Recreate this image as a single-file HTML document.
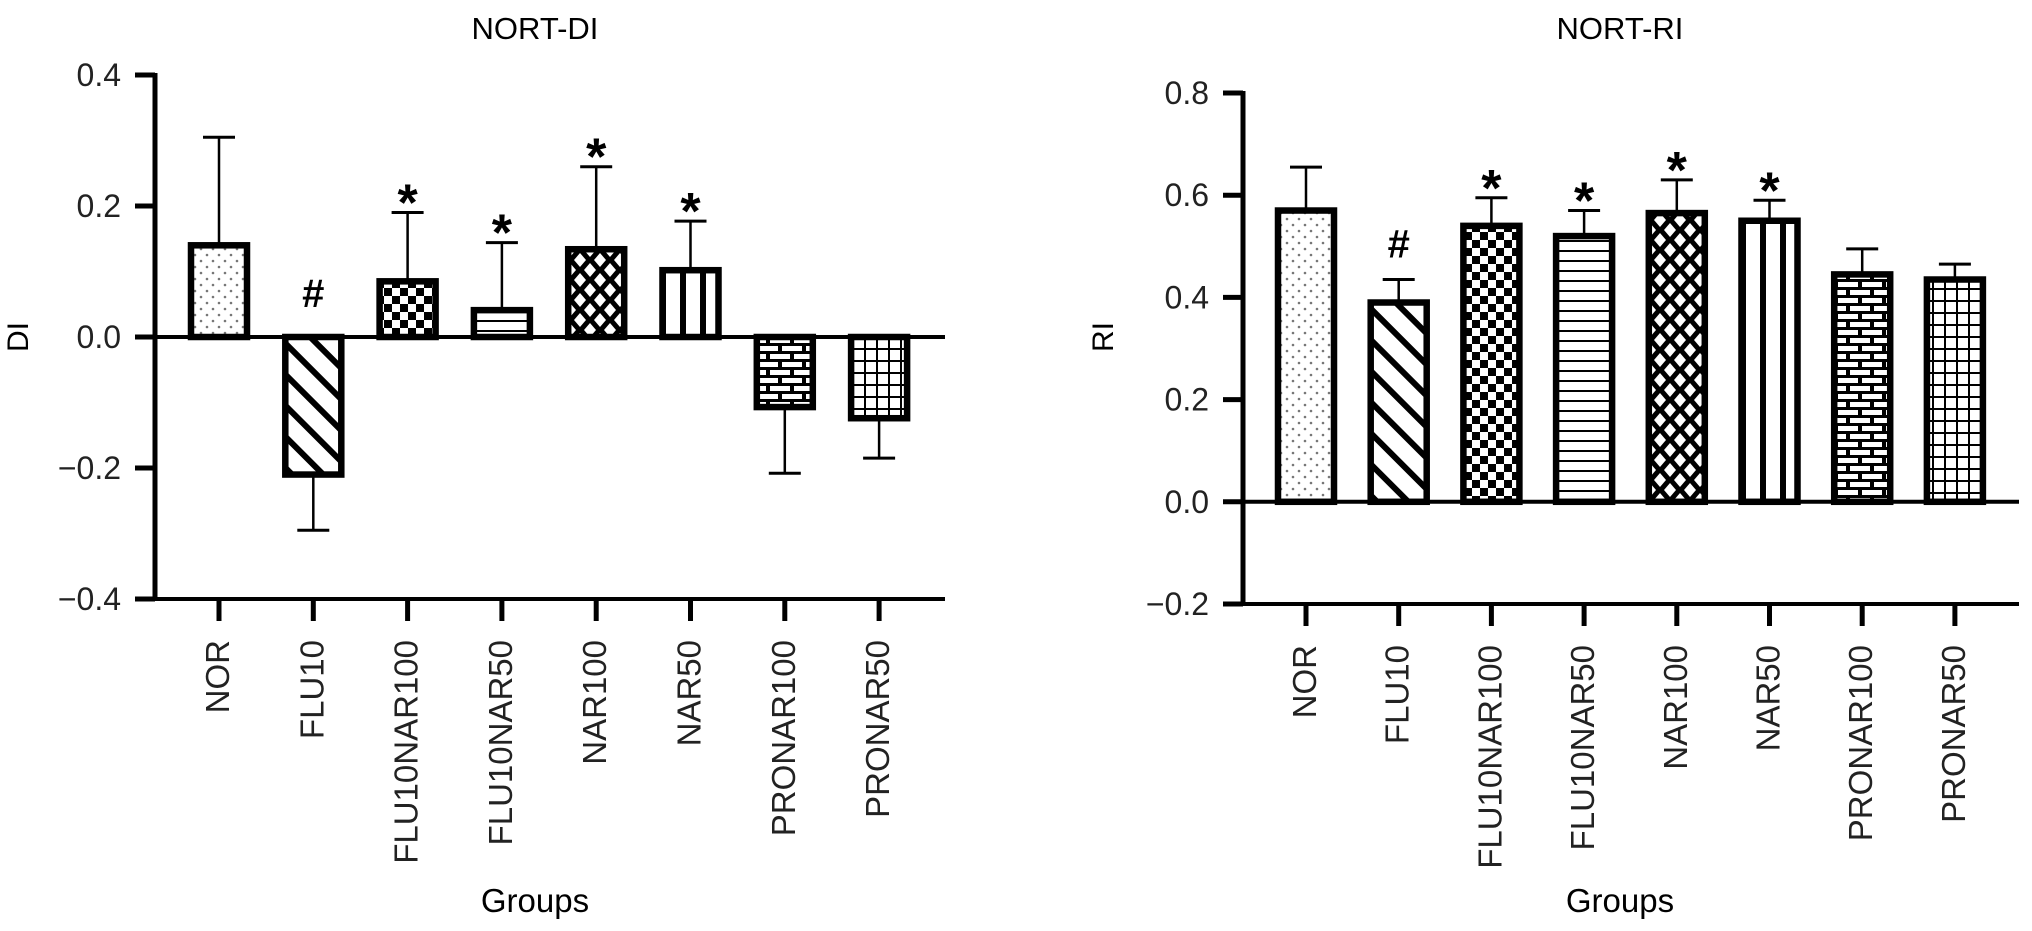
<!DOCTYPE html>
<html><head><meta charset="utf-8"><style>
html,body{margin:0;padding:0;background:#fff;width:2032px;height:931px;overflow:hidden}
svg{display:block;font-family:"Liberation Sans",Arial,sans-serif}
</style></head><body>
<svg id="chart" width="2032" height="931" viewBox="0 0 2032 931" xmlns="http://www.w3.org/2000/svg">
<defs>
<pattern id="p0" patternUnits="userSpaceOnUse" width="12" height="12"><rect width="12" height="12" fill="#fff"/><circle cx="3" cy="3" r="1.3" fill="#777"/><circle cx="9" cy="9" r="1.3" fill="#777"/></pattern>
<pattern id="p1" patternUnits="userSpaceOnUse" width="22" height="22" patternTransform="rotate(-45)"><rect width="22" height="22" fill="#fff"/><rect x="0" y="0" width="6" height="22" fill="#000"/></pattern>
<pattern id="p2" patternUnits="userSpaceOnUse" width="16" height="16"><rect width="16" height="16" fill="#fff"/><rect width="8" height="8" fill="#000"/><rect x="8" y="8" width="8" height="8" fill="#000"/></pattern>
<pattern id="p3" patternUnits="userSpaceOnUse" width="10" height="10"><rect width="10" height="10" fill="#fff"/><rect y="0" width="10" height="2" fill="#000"/></pattern>
<pattern id="p4" patternUnits="userSpaceOnUse" width="20" height="20"><rect width="20" height="20" fill="#000"/><polygon points="10,3 16,10 10,17 4,10" fill="#fff"/><polygon points="0,-7 6,0 0,7 -6,0" fill="#fff"/><polygon points="20,-7 26,0 20,7 14,0" fill="#fff"/><polygon points="0,13 6,20 0,27 -6,20" fill="#fff"/><polygon points="20,13 26,20 20,27 14,20" fill="#fff"/></pattern>
<pattern id="p5" patternUnits="userSpaceOnUse" width="20" height="20"><rect width="20" height="20" fill="#fff"/><rect x="0" width="6" height="20" fill="#000"/></pattern>
<pattern id="p6" patternUnits="userSpaceOnUse" width="24" height="16"><rect width="24" height="16" fill="#000"/><rect x="2" y="2" width="20" height="5" fill="#fff"/><rect x="-10" y="10" width="20" height="5" fill="#fff"/><rect x="14" y="10" width="20" height="5" fill="#fff"/></pattern>
<pattern id="p7" patternUnits="userSpaceOnUse" width="12" height="12"><rect width="12" height="12" fill="#fff"/><rect width="12" height="2" fill="#000"/><rect width="2" height="12" fill="#000"/></pattern>
</defs>
<g id="left"></g>
<g id="right"></g>
</svg>
<script>
const categories = ["NOR","FLU10","FLU10NAR100","FLU10NAR50","NAR100","NAR50","PRONAR100","PRONAR50"];
const diValues = [0.14,-0.21,0.085,0.041,0.134,0.102,-0.107,-0.124];
const diErrors = [0.305,-0.295,0.19,0.144,0.26,0.177,-0.208,-0.185];
const diMarks = ["","#","*","*","*","*","",""];
const diTicks = [0.4,0.2,0.0,-0.2,-0.4];
const riValues = [0.57,0.39,0.54,0.52,0.565,0.55,0.445,0.435];
const riErrors = [0.655,0.435,0.595,0.57,0.63,0.59,0.495,0.465];
const riMarks = ["","#","*","*","*","*","",""];
const riTicks = [0.8,0.6,0.4,0.2,0.0,-0.2];
const NS="http://www.w3.org/2000/svg";
function mk(parent,tag,attrs,text){const e=document.createElementNS(NS,tag);for(const k in attrs)e.setAttribute(k,attrs[k]);if(text!==undefined)e.textContent=text;parent.appendChild(e);return e;}
function fmt(v){return v<0?"\u2212"+Math.abs(v).toFixed(1):v.toFixed(1);}
function draw(g,cfg){
  const y=v=>cfg.y0+(cfg.vmax-v)/(cfg.vmax-cfg.vmin)*(cfg.y1-cfg.y0);
  const x=i=>cfg.x0+i*cfg.step;
  let t=mk(g,"text",{x:cfg.titleX,y:39,"text-anchor":"middle","font-size":31},cfg.title);
  
  
  t=mk(g,"text",{x:0,y:0,"text-anchor":"middle","font-size":30,transform:`translate(${cfg.ylabX},${cfg.ylabY}) rotate(-90)`},cfg.ylab);
  
  
  t=mk(g,"text",{x:cfg.groupsX,y:912,"text-anchor":"middle","font-size":33},"Groups");
  
  
  let l=mk(g,"line",{x1:cfg.ax,x2:cfg.ax,y1:y(cfg.vmax)-2,y2:y(cfg.vmin)+2,stroke:"#000","stroke-width":5});
  
  
  cfg.ticks.forEach(v=>{
    const tk=mk(g,"line",{x1:cfg.ax-20,x2:cfg.ax,y1:y(v),y2:y(v),stroke:"#000","stroke-width":5});
    
    
    const tl=mk(g,"text",{x:cfg.ax-34,y:y(v)+11,"text-anchor":"end","font-size":32,fill:"#222"},fmt(v));
    
    
  });
  l=mk(g,"line",{x1:cfg.ax,x2:cfg.xend,y1:y(cfg.vmin),y2:y(cfg.vmin),stroke:"#000","stroke-width":4});
  
  
  categories.forEach((c,i)=>{
    const cx=x(i),v=cfg.vals[i],e=cfg.errs[i];
    const top=Math.min(y(v),y(0)),h=Math.abs(y(v)-y(0));
    const eb=mk(g,"line",{x1:cx,x2:cx,y1:y(v),y2:y(e),stroke:"#000","stroke-width":2.5});
    
    
    const cap=mk(g,"line",{x1:cx-16,x2:cx+16,y1:y(e),y2:y(e),stroke:"#000","stroke-width":3});
    
    
    const r=mk(g,"rect",{x:cx-28,y:top,width:56,height:h,fill:`url(#p${i})`,stroke:"#000","stroke-width":6.5});
    
    
    if(cfg.marks[i]){
      const isHash=cfg.marks[i]==="#";
      let my;
      if(v<0){ my=y(0)-30; }
      else { my=isHash? y(e)-22 : y(e)+8; }
      const m=mk(g,"text",{x:cx,y:my,"text-anchor":"middle","font-size":isHash?40:52,"font-weight":"bold"},cfg.marks[i]);
      
      
    }
    const tk=mk(g,"line",{x1:cx,x2:cx,y1:y(cfg.vmin),y2:y(cfg.vmin)+22,stroke:"#000","stroke-width":5});
    
    
    const tl=mk(g,"text",{x:0,y:0,"text-anchor":"end","font-size":33,fill:"#222",transform:`translate(${cx+10},${y(cfg.vmin)+41}) rotate(-90)`},c);
    
    
  });
  l=mk(g,"line",{x1:cfg.ax,x2:cfg.xend,y1:y(0),y2:y(0),stroke:"#000","stroke-width":4});
  
  
}
draw(document.getElementById('left'),{title:"NORT-DI",titleX:535,ylab:"DI",ylabX:28,ylabY:337,groupsX:535,
  ax:155,xend:945,x0:219,step:94.3,vmax:0.4,vmin:-0.4,y0:75,y1:599,vals:diValues,errs:diErrors,marks:diMarks,ticks:diTicks});
draw(document.getElementById('right'),{title:"NORT-RI",titleX:1620,ylab:"RI",ylabX:1113,ylabY:337,groupsX:1620,
  ax:1243,xend:2019,x0:1306,step:92.7,vmax:0.8,vmin:-0.2,y0:93,y1:604,vals:riValues,errs:riErrors,marks:riMarks,ticks:riTicks});
</script>
</body></html>
